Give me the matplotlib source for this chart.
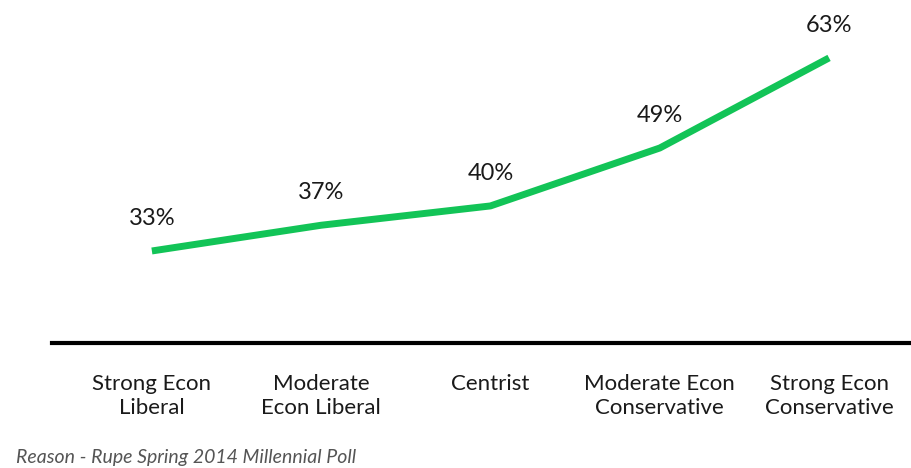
import matplotlib.pyplot as plt

# Data
kategori = ['Strong Econ\nLiberal', 'Moderate\nEcon Liberal', 'Centrist',
            'Moderate Econ\nConservative', 'Strong Econ\nConservative']
persen = [33, 37, 40, 49, 63]
sumber = 'Reason - Rupe Spring 2014 Millennial Poll'

plt.rcParams['font.family'] = ['Lato', 'DejaVu Sans']

fig = plt.figure(figsize=(9.12, 4.68), dpi=100)
ax = fig.add_axes([52 / 912, 125 / 468, 860 / 912, 343 / 468])

x = list(range(len(persen)))
ax.plot(x, persen, color='#12c457', linewidth=5, solid_capstyle='butt')

# Label nilai di atas titik
for xi, yi in zip(x, persen):
    ax.annotate(f'{yi}%', (xi, yi), xytext=(0, 16), textcoords='offset points',
                ha='center', va='bottom', fontsize=17, color='#1a1a1a')

ax.set_xlim(-0.59, 4.49)
ax.set_ylim(18.7, 72.0)

for s in ['top', 'right', 'left']:
    ax.spines[s].set_visible(False)
ax.spines['bottom'].set_linewidth(3)
ax.spines['bottom'].set_color('black')

ax.set_yticks([])
ax.set_xticks(x)
ax.set_xticklabels(kategori, fontsize=16, color='#1a1a1a', linespacing=1.3)
ax.tick_params(axis='x', length=0, pad=22)

fig.text(16 / 912, 1 - 457 / 468, sumber, fontsize=14, style='italic',
         color='#555555', va='center', ha='left')

plt.savefig('out.png', dpi=100)
